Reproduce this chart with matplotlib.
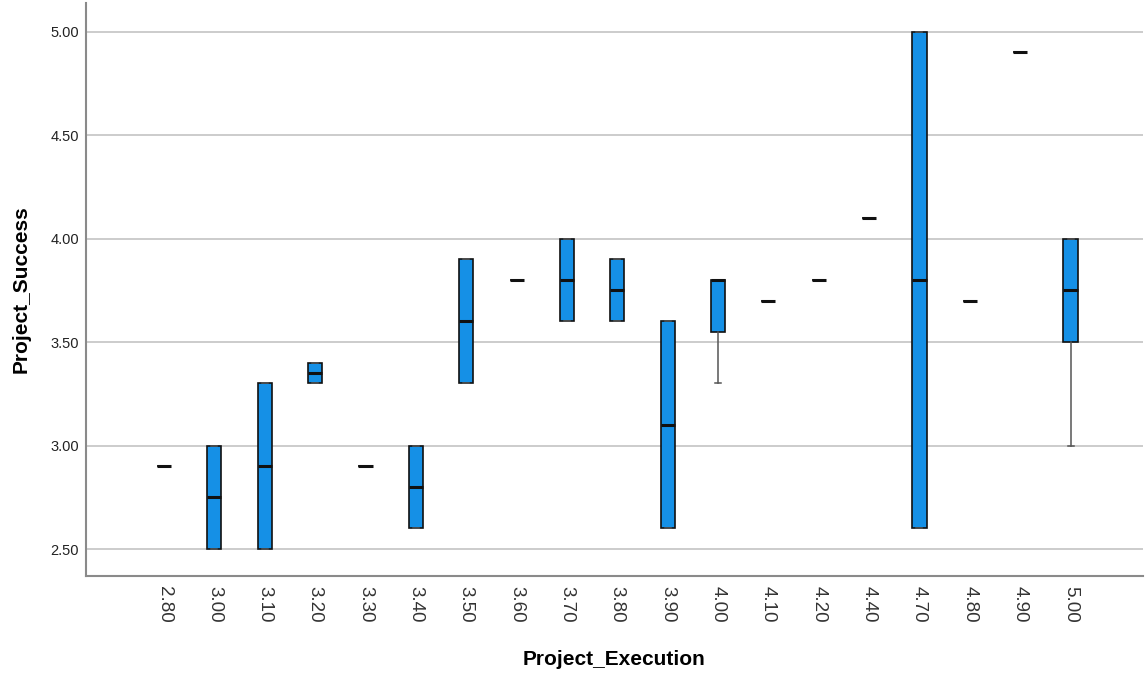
import numpy as np
import matplotlib
matplotlib.use('Agg')
import matplotlib.pyplot as plt

plt.rcParams['font.family'] = ['Liberation Sans', 'DejaVu Sans']

# Project_Execution groups and the box statistics of Project_Success per group
categories = ['2.80', '3.00', '3.10', '3.20', '3.30', '3.40', '3.50', '3.60', '3.70', '3.80',
              '3.90', '4.00', '4.10', '4.20', '4.40', '4.70', '4.80', '4.90', '5.00']
q1 =      [2.90, 2.50, 2.50, 3.30, 2.90, 2.60, 3.30, 3.80, 3.60, 3.60,
           2.60, 3.55, 3.70, 3.80, 4.10, 2.60, 3.70, 4.90, 3.50]
medians = [2.90, 2.75, 2.90, 3.35, 2.90, 2.80, 3.60, 3.80, 3.80, 3.75,
           3.10, 3.80, 3.70, 3.80, 4.10, 3.80, 3.70, 4.90, 3.75]
q3 =      [2.90, 3.00, 3.30, 3.40, 2.90, 3.00, 3.90, 3.80, 4.00, 3.90,
           3.60, 3.80, 3.70, 3.80, 4.10, 5.00, 3.70, 4.90, 4.00]
whis_lo = [2.90, 2.50, 2.50, 3.30, 2.90, 2.60, 3.30, 3.80, 3.60, 3.60,
           2.60, 3.30, 3.70, 3.80, 4.10, 2.60, 3.70, 4.90, 3.00]
whis_hi = [2.90, 3.00, 3.30, 3.40, 2.90, 3.00, 3.90, 3.80, 4.00, 3.90,
           3.60, 3.80, 3.70, 3.80, 4.10, 5.00, 3.70, 4.90, 4.00]

stats = []
for i, lab in enumerate(categories):
    stats.append(dict(label=lab, med=medians[i], q1=q1[i], q3=q3[i],
                      whislo=whis_lo[i], whishi=whis_hi[i], fliers=[]))

fig = plt.figure(figsize=(11.46, 6.76), dpi=100)
ax = fig.add_axes([0.075, 0.148, 0.922, 0.848])

pos = np.arange(len(categories))
ax.bxp(stats, positions=pos, widths=0.28, patch_artist=True, capwidths=0.12,
       boxprops=dict(facecolor='#1590e6', edgecolor='#111111', linewidth=1.2),
       medianprops=dict(color='#111111', linewidth=2.2),
       whiskerprops=dict(color='#555555', linewidth=1.1),
       capprops=dict(color='#555555', linewidth=1.1),
       manage_ticks=False, zorder=3)

ax.set_xlim(-1.55, len(categories) - 1 + 1.43)
ax.set_ylim(2.37, 5.14)
ax.set_yticks([2.5, 3.0, 3.5, 4.0, 4.5, 5.0])
ax.set_yticklabels(['%.2f' % v for v in [2.5, 3.0, 3.5, 4.0, 4.5, 5.0]], fontsize=10.5, color='#222222')
ax.set_xticks(pos)
ax.set_xticklabels(categories, rotation=270, fontsize=13.5, color='#333333')
ax.tick_params(axis='y', length=0, pad=5)
ax.tick_params(axis='x', length=0, pad=7)
for t in ax.get_xticklabels():
    t.set_x(t.get_position()[0])

ax.yaxis.grid(True, color='#c8c8c8', linewidth=1.3, zorder=0)
ax.set_axisbelow(True)

for s in ['top', 'right']:
    ax.spines[s].set_visible(False)
for s in ['left', 'bottom']:
    ax.spines[s].set_color('#8a8a8a')
    ax.spines[s].set_linewidth(1.5)

ax.set_xlabel('Project_Execution', fontsize=15, fontweight='bold', labelpad=20)
ax.set_ylabel('Project_Success', fontsize=15, fontweight='bold', labelpad=14)

fig.savefig('out.png', dpi=100)
